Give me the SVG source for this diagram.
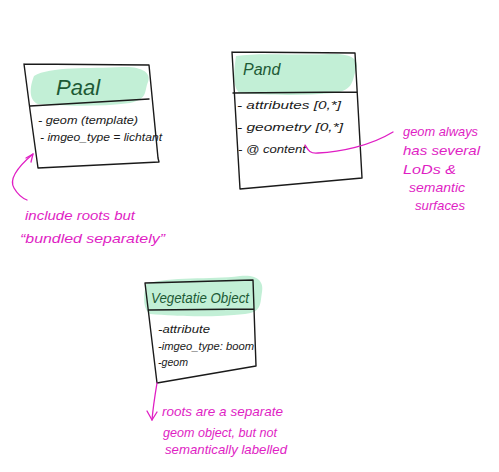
<svg xmlns="http://www.w3.org/2000/svg" width="499" height="472" viewBox="0 0 499 472">
<style>
.box{fill:none;stroke:#1a1a1a;stroke-width:1.4;stroke-linejoin:round;stroke-linecap:round}
.blob{fill:#c2efd6;stroke:none}
.title{font-family:"Liberation Sans",sans-serif;font-style:italic;fill:#1d5a35}
.attr{font-family:"Liberation Sans",sans-serif;font-style:italic;font-size:11px;fill:#1a1a1a}
.note{font-family:"Liberation Sans",sans-serif;font-style:italic;font-size:13px;fill:#e01ec4}
.conn{fill:none;stroke:#e01ec4;stroke-width:1.3;stroke-linecap:round;stroke-linejoin:round}
</style>
<rect width="499" height="472" fill="#ffffff"/>
<g id="paal">
<path class="blob" d="M34,76 C50,66 90,69 122,67 C140,66 152,72 148,82 C144,92 148,99 130,103 C100,107 60,106 38,104 C28,100 30,86 34,76 Z"/>
<path class="box" d="M24,64 L149,65 L158,158 L159,162 L38,168 L30,110 L24,64 M30,106 L149,99"/>
<text class="title" x="56" y="95" font-size="22">Paal</text>
<text class="attr" x="38" y="124" textLength="100" lengthAdjust="spacingAndGlyphs">- geom (template)</text>
<text class="attr" x="40" y="141" textLength="122" lengthAdjust="spacingAndGlyphs">- imgeo_type = lichtant</text>
</g>
<g id="pand">
<path class="blob" d="M236,56 C260,52 300,56 330,54 C352,53 360,60 356,70 C352,80 354,90 335,93 C300,96 265,95 240,93 C232,88 234,70 236,56 Z"/>
<path class="box" d="M232,52 L355,53 L362,178 L240,189 L232,52 M233,93 L357,92"/>
<text class="title" x="243" y="75" font-size="16">Pand</text>
<text class="attr" x="237" y="109" textLength="104" lengthAdjust="spacingAndGlyphs">- attributes [0,*]</text>
<text class="attr" x="237" y="131" textLength="106" lengthAdjust="spacingAndGlyphs">- geometry [0,*]</text>
<text class="attr" x="238" y="153" textLength="68" lengthAdjust="spacingAndGlyphs">- @ content</text>
</g>
<g id="vegetatie-object">
<path class="blob" d="M146,284 C170,276 210,280 240,276 C258,274 264,282 262,292 C260,304 262,312 245,314 C210,318 175,316 150,314 C142,308 144,294 146,284 Z"/>
<path class="box" d="M145,283 L253,280 L256,366 L157,383 L145,283 M148,310 L254,309"/>
<text class="title" x="151" y="303" font-size="14" textLength="98" lengthAdjust="spacingAndGlyphs">Vegetatie Object</text>
<text class="attr" x="158" y="333" textLength="52" lengthAdjust="spacingAndGlyphs">-attribute</text>
<text class="attr" x="158" y="350" textLength="96" lengthAdjust="spacingAndGlyphs">-imgeo_type: boom</text>
<text class="attr" x="158" y="366" textLength="30" lengthAdjust="spacingAndGlyphs">-geom</text>
</g>
<g id="connectors">
<path class="conn" d="M33,154 C20,165 8,178 14,188 C18,195 22,198 27,200"/>
<path class="conn" d="M33,154 L26,158 M33,154 L31,162"/>
<path class="conn" d="M305,145 C308,150 310,154 318,153 C340,152 370,146 393,132"/>
<path class="conn" d="M157,383 C155,395 153,408 152,420"/>
<path class="conn" d="M152,420 L147,411 M152,420 L157,412"/>
</g>
<g id="notes">
<text class="note" x="25" y="220" textLength="110" lengthAdjust="spacingAndGlyphs">include roots but</text>
<text class="note" x="20" y="243" textLength="145" lengthAdjust="spacingAndGlyphs">“bundled separately”</text>
<text class="note" x="403" y="136" textLength="75" lengthAdjust="spacingAndGlyphs">geom always</text>
<text class="note" x="403" y="155" textLength="77" lengthAdjust="spacingAndGlyphs">has several</text>
<text class="note" x="403" y="174" textLength="53" lengthAdjust="spacingAndGlyphs">LoDs &amp;</text>
<text class="note" x="409" y="192" textLength="56" lengthAdjust="spacingAndGlyphs">semantic</text>
<text class="note" x="415" y="210" textLength="50" lengthAdjust="spacingAndGlyphs">surfaces</text>
<text class="note" x="162" y="416" textLength="121" lengthAdjust="spacingAndGlyphs">roots are a separate</text>
<text class="note" x="163" y="437" textLength="114" lengthAdjust="spacingAndGlyphs">geom object, but not</text>
<text class="note" x="165" y="454" textLength="122" lengthAdjust="spacingAndGlyphs">semantically labelled</text>
</g>
</svg>
